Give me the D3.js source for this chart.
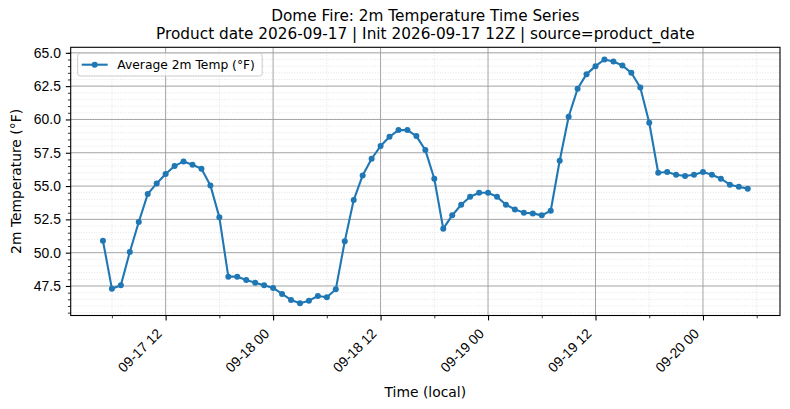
<!DOCTYPE html>
<html>
<head>
<meta charset="utf-8">
<script src="https://cdn.jsdelivr.net/npm/d3@7"></script>
<style>
  body { margin: 0; background: #fff; }
  svg { display: block; font-family: "DejaVu Sans", sans-serif; }
</style>
</head>
<body>
<svg width="790" height="409"></svg>
<script>
// hourly forecast times (local)
var times = [
  "2026-09-17T05","2026-09-17T06","2026-09-17T07","2026-09-17T08","2026-09-17T09","2026-09-17T10",
  "2026-09-17T11","2026-09-17T12","2026-09-17T13","2026-09-17T14","2026-09-17T15","2026-09-17T16",
  "2026-09-17T17","2026-09-17T18","2026-09-17T19","2026-09-17T20","2026-09-17T21","2026-09-17T22",
  "2026-09-17T23",
  "2026-09-18T00","2026-09-18T01","2026-09-18T02","2026-09-18T03","2026-09-18T04","2026-09-18T05",
  "2026-09-18T06","2026-09-18T07","2026-09-18T08","2026-09-18T09","2026-09-18T10","2026-09-18T11",
  "2026-09-18T12","2026-09-18T13","2026-09-18T14","2026-09-18T15","2026-09-18T16","2026-09-18T17",
  "2026-09-18T18","2026-09-18T19","2026-09-18T20","2026-09-18T21","2026-09-18T22","2026-09-18T23",
  "2026-09-19T00","2026-09-19T01","2026-09-19T02","2026-09-19T03","2026-09-19T04","2026-09-19T05",
  "2026-09-19T06","2026-09-19T07","2026-09-19T08","2026-09-19T09","2026-09-19T10","2026-09-19T11",
  "2026-09-19T12","2026-09-19T13","2026-09-19T14","2026-09-19T15","2026-09-19T16","2026-09-19T17",
  "2026-09-19T18","2026-09-19T19","2026-09-19T20","2026-09-19T21","2026-09-19T22","2026-09-19T23",
  "2026-09-20T00","2026-09-20T01","2026-09-20T02","2026-09-20T03","2026-09-20T04","2026-09-20T05"
];

// average 2m temperature (F)
var temps = [
  50.9, 47.3, 47.55, 50.05, 52.3, 54.4, 55.2, 55.9, 56.5, 56.85, 56.6, 56.3, 55.05, 52.65, 48.2,
  48.2, 47.95, 47.75, 47.55, 47.35, 46.9, 46.45, 46.2, 46.4, 46.75, 46.65, 47.25, 50.85, 53.95, 55.8,
  57.05, 58.0, 58.7, 59.2, 59.2, 58.75, 57.7, 55.55, 51.8, 52.8, 53.6, 54.2, 54.5, 54.5, 54.2,
  53.6, 53.25, 53.0, 52.95, 52.8, 53.15, 56.9, 60.2, 62.3, 63.4, 64.0, 64.5, 64.35, 64.05, 63.5,
  62.4, 59.75, 56.0, 56.05, 55.85, 55.75, 55.85, 56.05, 55.85, 55.55, 55.1, 54.95, 54.8
];

var xMajorTicks = ["2026-09-17T12","2026-09-18T00","2026-09-18T12","2026-09-19T00","2026-09-19T12","2026-09-20T00"];
var xMinorTicks = ["2026-09-17T06","2026-09-17T18","2026-09-18T06","2026-09-18T18","2026-09-19T06","2026-09-19T18","2026-09-20T06"];
var yMajorTicks = [47.5, 50.0, 52.5, 55.0, 57.5, 60.0, 62.5, 65.0];
var yMinorTicks = [45.5,46,46.5,47,48,48.5,49,49.5,50.5,51,51.5,52,53,53.5,54,54.5,55.5,56,56.5,57,
  58,58.5,59,59.5,60.5,61,61.5,62,63,63.5,64,64.5,65];

var titleLines = ["Dome Fire: 2m Temperature Time Series",
  "Product date 2026-09-17 | Init 2026-09-17 12Z | source=product_date"];

var parse = d3.utcParse("%Y-%m-%dT%H");
var fmt = d3.utcFormat("%m-%d %H");
var data = times.map(function(t, i){ return { t: parse(t), v: temps[i] }; });

var margin = { top: 47.3, right: 10, bottom: 93.5, left: 70.7 };
var W = 790, H = 409;
var w = W - margin.left - margin.right, h = H - margin.top - margin.bottom;

var svg = d3.select("svg");
var g = svg.append("g").attr("transform", "translate(" + margin.left + "," + margin.top + ")");

// matplotlib style 5% margins
var tExt = d3.extent(data, function(d){ return d.t; });
var tPad = (tExt[1] - tExt[0]) * 0.05;
var x = d3.scaleUtc()
  .domain([new Date(+tExt[0] - tPad), new Date(+tExt[1] + tPad)])
  .range([0, w]);
var vExt = d3.extent(temps);
var vPad = (vExt[1] - vExt[0]) * 0.05;
var y = d3.scaleLinear().domain([vExt[0] - vPad, vExt[1] + vPad]).range([h, 0]);

var xMaj = xMajorTicks.map(parse), xMin = xMinorTicks.map(parse);

// grid
g.append("g").selectAll("line").data(yMinorTicks).enter().append("line")
  .attr("x1", 0).attr("x2", w).attr("y1", y).attr("y2", y)
  .attr("stroke", "#d9d9d9").attr("stroke-width", 0.7).attr("stroke-dasharray", "1,1.6");
g.append("g").selectAll("line").data(xMin).enter().append("line")
  .attr("y1", 0).attr("y2", h).attr("x1", x).attr("x2", x)
  .attr("stroke", "#d9d9d9").attr("stroke-width", 0.7).attr("stroke-dasharray", "1,1.6");
g.append("g").selectAll("line").data(yMajorTicks).enter().append("line")
  .attr("x1", 0).attr("x2", w).attr("y1", y).attr("y2", y)
  .attr("stroke", "#9a9a9a").attr("stroke-width", 0.9);
g.append("g").selectAll("line").data(xMaj).enter().append("line")
  .attr("y1", 0).attr("y2", h).attr("x1", x).attr("x2", x)
  .attr("stroke", "#9a9a9a").attr("stroke-width", 0.9);

// axes
var xAxis = g.append("g").attr("transform", "translate(0," + h + ")")
  .call(d3.axisBottom(x).tickValues(xMaj).tickFormat(fmt).tickSize(4.9).tickPadding(0));
xAxis.select(".domain").remove();
xAxis.selectAll("text")
  .attr("font-size", 13.9).attr("fill", "#000")
  .attr("text-anchor", "end")
  .attr("dy", null).attr("y", null)
  .attr("transform", "translate(-3.5,19) rotate(-45)");
xAxis.selectAll("line").attr("stroke", "#000").attr("stroke-width", 1.1);

g.append("g").attr("transform", "translate(0," + h + ")")
  .call(d3.axisBottom(x).tickValues(xMin).tickFormat("").tickSize(2.8))
  .call(function(s){ s.select(".domain").remove(); s.selectAll("line").attr("stroke", "#000").attr("stroke-width", 0.8); });

var yAxis = g.append("g")
  .call(d3.axisLeft(y).tickValues(yMajorTicks).tickFormat(d3.format(".1f")).tickSize(4.9).tickPadding(4.9));
yAxis.select(".domain").remove();
yAxis.selectAll("text").attr("font-size", 13.9).attr("fill", "#000");
yAxis.selectAll("line").attr("stroke", "#000").attr("stroke-width", 1.1);

g.append("g")
  .call(d3.axisLeft(y).tickValues(yMinorTicks).tickFormat("").tickSize(2.8))
  .call(function(s){ s.select(".domain").remove(); s.selectAll("line").attr("stroke", "#000").attr("stroke-width", 0.8); });

// series
var line = d3.line().x(function(d){ return x(d.t); }).y(function(d){ return y(d.v); });
g.append("path").datum(data).attr("d", line)
  .attr("fill", "none").attr("stroke", "#1f77b4").attr("stroke-width", 2.1).attr("stroke-linejoin", "round");
g.append("g").selectAll("circle").data(data).enter().append("circle")
  .attr("cx", function(d){ return x(d.t); }).attr("cy", function(d){ return y(d.v); })
  .attr("r", 3).attr("fill", "#1f77b4");

// frame
g.append("rect").attr("width", w).attr("height", h)
  .attr("fill", "none").attr("stroke", "#000").attr("stroke-width", 1.1);

// legend
var lg = g.append("g").attr("transform", "translate(7,6)");
lg.append("rect").attr("width", 184.5).attr("height", 22.7).attr("rx", 2.5)
  .attr("fill", "#fff").attr("fill-opacity", 0.8).attr("stroke", "#cccccc").attr("stroke-width", 1);
lg.append("line").attr("x1", 4).attr("x2", 30).attr("y1", 11.4).attr("y2", 11.4)
  .attr("stroke", "#1f77b4").attr("stroke-width", 2.1);
lg.append("circle").attr("cx", 17).attr("cy", 11.4).attr("r", 3).attr("fill", "#1f77b4");
lg.append("text").attr("x", 39.6).attr("y", 15.8).attr("font-size", 12.3).text("Average 2m Temp (°F)");

// titles and labels
svg.append("g").selectAll("text").data(titleLines).enter().append("text")
  .attr("x", margin.left + w / 2).attr("y", function(d, i){ return 21 + i * 18.3; })
  .attr("text-anchor", "middle").attr("font-size", 15.3).text(function(d){ return d; });

svg.append("text").attr("x", margin.left + w / 2).attr("y", 397)
  .attr("text-anchor", "middle").attr("font-size", 13.9).text("Time (local)");

svg.append("text").attr("transform", "translate(21," + (margin.top + h / 2) + ") rotate(-90)")
  .attr("text-anchor", "middle").attr("font-size", 13.9).text("2m Temperature (°F)");
</script>
</body>
</html>
